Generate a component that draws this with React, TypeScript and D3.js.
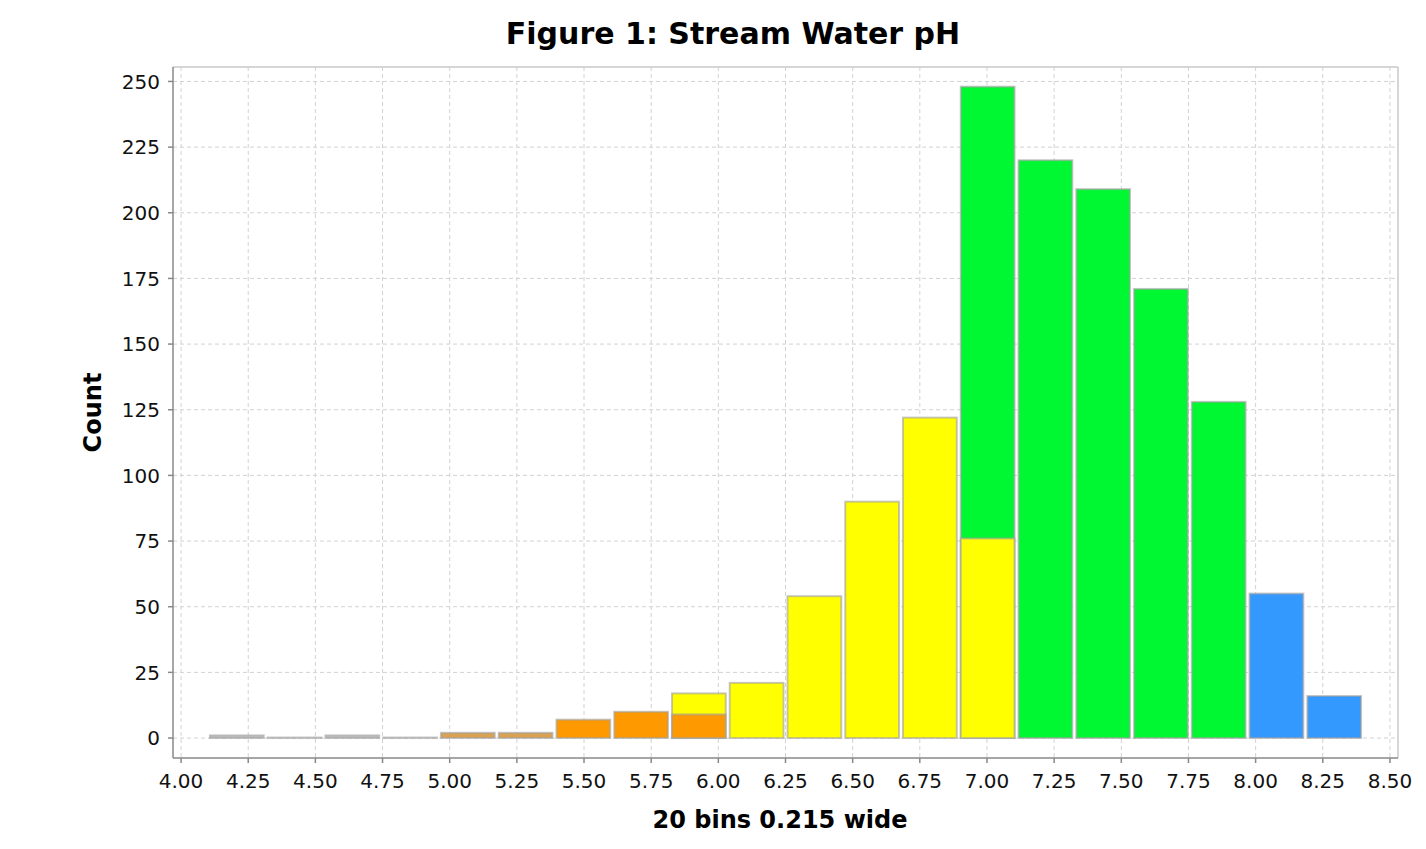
import * as d3 from 'd3';

// bin layout: 20 bins 0.215 wide, starting at 4.1
const binStart = 4.1;
const binWidth = 0.215;
const binCount = 20;

// counts per bin for each pH class (null = class not present in that bin)
const grayCounts = [1, 0, 1, 0, null, null, null, null, null, null, null, null, null, null, null, null, null, null, null, null];
const tanCounts = [null, null, null, null, 2, 2, null, null, null, null, null, null, null, null, null, null, null, null, null, null];
const orangeCounts = [null, null, null, null, null, null, 7, 10, 9, null, null, null, null, null, null, null, null, null, null, null];
const yellowCounts = [null, null, null, null, null, null, null, null, 17, 21, 54, 90, 122, 76, null, null, null, null, null, null];
const greenCounts = [null, null, null, null, null, null, null, null, null, null, null, null, null, 248, 220, 209, 171, 128, null, null];
const blueCounts = [null, null, null, null, null, null, null, null, null, null, null, null, null, null, null, null, null, null, 55, 16];

const seriesNames = ['gray', 'tan', 'orange', 'yellow', 'green', 'blue'];
const seriesColors = ['#c4c4c4', '#dba351', '#ff9900', '#ffff00', '#00f832', '#3399ff'];
const seriesCounts = [grayCounts, tanCounts, orangeCounts, yellowCounts, greenCounts, blueCounts];

const xTicks = [4.0, 4.25, 4.5, 4.75, 5.0, 5.25, 5.5, 5.75, 6.0, 6.25, 6.5, 6.75, 7.0, 7.25, 7.5, 7.75, 8.0, 8.25, 8.5];
const yTicks = [0, 25, 50, 75, 100, 125, 150, 175, 200, 225, 250];

const W = 1426;
const H = 849;
const plot = { left: 173, right: 1398, top: 67, bottom: 758 };
const font = '"DejaVu Sans", Verdana, sans-serif';

export default function App() {
    const x = d3.scaleLinear().domain([3.97, 8.53]).range([plot.left, plot.right]);
    const y = d3.scaleLinear().domain([-7.6, 255.5]).range([plot.bottom, plot.top]);

    // flatten into bars, taller ones drawn first so shorter overlay stays visible
    const bars: { bin: number; value: number; color: string; key: string }[] = [];
    for (let b = 0; b < binCount; b++) {
        const inBin = seriesCounts
            .map((c, i) => ({ bin: b, value: c[b], color: seriesColors[i], key: seriesNames[i] + b }))
            .filter((d) => d.value !== null) as { bin: number; value: number; color: string; key: string }[];
        inBin.sort((a, c) => c.value - a.value);
        bars.push(...inBin);
    }

    return (
        <svg width={W} height={H} style={{ position: 'absolute', left: 0, top: 0, background: '#fff' }}>
            <text x={733} y={44} textAnchor="middle" fontFamily={font} fontWeight="bold" fontSize={30} fill="#000">
                Figure 1: Stream Water pH
            </text>

            {/* grid */}
            <g stroke="#d2d2d2" strokeWidth={1} strokeDasharray="4,3">
                {xTicks.map((t) => (
                    <line key={'gx' + t} x1={x(t)} x2={x(t)} y1={plot.top} y2={plot.bottom} />
                ))}
                {yTicks.map((t) => (
                    <line key={'gy' + t} x1={plot.left} x2={plot.right} y1={y(t)} y2={y(t)} />
                ))}
            </g>

            {/* plot outline */}
            <line x1={plot.left} x2={plot.right} y1={plot.top} y2={plot.top} stroke="#c8c8c8" strokeWidth={1.5} />
            <line x1={plot.right} x2={plot.right} y1={plot.top} y2={plot.bottom} stroke="#c8c8c8" strokeWidth={1.5} />

            {/* bars */}
            <g>
                {bars.map((d) => {
                    const x0 = x(binStart + d.bin * binWidth) + 2;
                    const x1 = x(binStart + (d.bin + 1) * binWidth) - 2;
                    const y0 = Math.min(y(d.value), y(0) - 0.5);
                    return (
                        <rect
                            key={d.key}
                            x={x0}
                            y={y0}
                            width={x1 - x0}
                            height={y(0) - y0}
                            fill={d.color}
                            stroke="rgba(160,160,160,0.6)"
                            strokeWidth={2}
                        />
                    );
                })}
            </g>

            {/* axes */}
            <g stroke="#888" strokeWidth={1.5}>
                <line x1={plot.left} x2={plot.left} y1={plot.top} y2={plot.bottom} />
                <line x1={plot.left} x2={plot.right} y1={plot.bottom} y2={plot.bottom} />
                {xTicks.map((t) => (
                    <line key={'tx' + t} x1={x(t)} x2={x(t)} y1={plot.bottom} y2={plot.bottom + 5} />
                ))}
                {yTicks.map((t) => (
                    <line key={'ty' + t} x1={plot.left - 5} x2={plot.left} y1={y(t)} y2={y(t)} />
                ))}
            </g>

            <g fontFamily={font} fontSize={20} fill="#111">
                {xTicks.map((t) => (
                    <text key={'lx' + t} x={x(t)} y={788} textAnchor="middle">
                        {d3.format('.2f')(t)}
                    </text>
                ))}
                {yTicks.map((t) => (
                    <text key={'ly' + t} x={160} y={y(t)} dy="0.36em" textAnchor="end">
                        {t}
                    </text>
                ))}
            </g>

            <text x={780} y={828} textAnchor="middle" fontFamily={font} fontWeight="bold" fontSize={24} fill="#000">
                20 bins 0.215 wide
            </text>
            <text
                transform={`translate(101,${(plot.top + plot.bottom) / 2}) rotate(-90)`}
                textAnchor="middle"
                fontFamily={font}
                fontWeight="bold"
                fontSize={24}
                fill="#000"
            >
                Count
            </text>
        </svg>
    );
}
